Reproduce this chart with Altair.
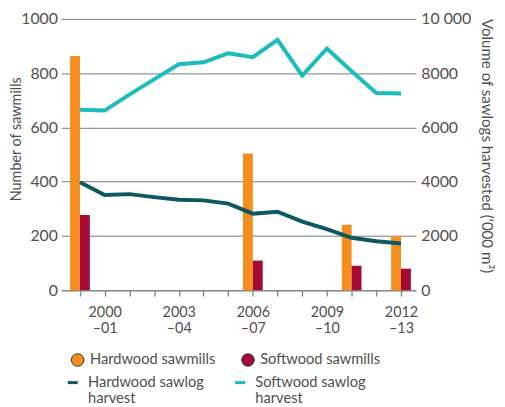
import altair as alt
import pandas as pd

# ---- data ----
years = list(range(1999, 2013))  # financial year start (1999 = 1999-00)
hardwood_harvest = [3980, 3510, 3540, 3430, 3330, 3310, 3190, 2820, 2890, 2530, 2250, 1930, 1800, 1720]
softwood_harvest = [6650, 6620, 7210, 7770, 8330, 8400, 8730, 8590, 9230, 7910, 8910, 8070, 7270, 7250]

mill_years = [1999, 2006, 2010, 2012]
hardwood_mills = [863, 504, 241, 199]
softwood_mills = [277, 109, 90, 79]

label_years = [2000, 2003, 2006, 2009, 2012]
left_ticks = [0, 200, 400, 600, 800, 1000]
right_ticks = [0, 2000, 4000, 6000, 8000, 10000]

mill_types = ["Hardwood sawmills", "Softwood sawmills"]
mill_colors = ["#F68D1F", "#A50A37"]
harvest_types = ["Hardwood sawlog harvest", "Softwood sawlog harvest"]
harvest_colors = ["#0D5862", "#1BBCBE"]

mills = pd.DataFrame({
    "year": mill_years * 2,
    "type": [mill_types[0]] * len(mill_years) + [mill_types[1]] * len(mill_years),
    "count": hardwood_mills + softwood_mills,
})
harvest = pd.DataFrame({
    "year": years * 2,
    "series": [harvest_types[0]] * len(years) + [harvest_types[1]] * len(years),
    "volume": hardwood_harvest + softwood_harvest,
})

FONT = "Lato"
TXT = "#505050"
GRID = "#7a7a7a"

x_scale = alt.Scale(domain=[1998.25, 2012.6], nice=False, zero=False)
label_list = ",".join(str(y) for y in label_years)
x_axis = alt.Axis(
    values=years,
    title=None,
    grid=False,
    domainColor="#8a8a8a",
    domainWidth=1.5,
    tickColor="#777777",
    tickSize=6,
    tickWidth=1.2,
    labelExpr=f"indexof([{label_list}], datum.value) >= 0 ? [toString(datum.value), '–' + substring(toString(datum.value + 1), 2)] : ''",
    labelFont=FONT,
    labelFontSize=14.5,
    labelColor=TXT,
    labelPadding=10,
    labelLineHeight=16,
)

left_axis = alt.Axis(
    values=left_ticks,
    format="d",
    title="Number of sawmills",
    grid=True,
    gridColor=GRID,
    gridWidth=1,
    domain=False,
    ticks=False,
    labelPadding=4,
    labelFont=FONT,
    labelFontSize=16,
    labelColor=TXT,
    titleFont=FONT,
    titleFontSize=14.5,
    titleFontWeight="normal",
    titleColor=TXT,
    titleX=-45,
    titleY=121,
    titleAlign="center",
    titleBaseline="middle",
)
right_axis = alt.Axis(
    values=right_ticks,
    orient="right",
    title="Volume of sawlogs harvested (‘000 m³)",
    grid=False,
    domain=False,
    ticks=False,
    labelPadding=5,
    labelExpr="datum.value == 10000 ? '10 000' : toString(datum.value)",
    labelFont=FONT,
    labelFontSize=16,
    labelColor=TXT,
    titleFont=FONT,
    titleFontSize=15.2,
    titleFontWeight="normal",
    titleColor=TXT,
    titleX=71,
    titleY=128,
    titleAlign="center",
    titleBaseline="middle",
)

bars = alt.Chart(mills).transform_calculate(
    x0=f"datum.year + (datum.type == '{mill_types[0]}' ? -0.4 : 0)",
    x1=f"datum.year + (datum.type == '{mill_types[0]}' ? 0 : 0.4)",
).mark_bar().encode(
    x=alt.X("x0:Q", scale=x_scale, axis=x_axis),
    x2="x1:Q",
    y=alt.Y("count:Q", scale=alt.Scale(domain=[0, 1000], nice=False), axis=left_axis),
    y2=alt.datum(0),
    fill=alt.Fill(
        "type:N",
        scale=alt.Scale(domain=mill_types, range=mill_colors),
        legend=alt.Legend(
            title=None,
            orient="none",
            legendX=9,
            legendY=337,
            direction="horizontal",
            columns=2,
            columnPadding=24,
            symbolType="circle",
            symbolSize=160,
            symbolStrokeColor="#333333",
            symbolStrokeWidth=1,
            symbolOpacity=1,
            labelFont=FONT,
            labelFontSize=14.8,
            labelColor=TXT,
            labelOffset=5,
        ),
    ),
)

lines = alt.Chart(harvest).mark_line(strokeWidth=4).encode(
    x=alt.X("year:Q", scale=x_scale, axis=x_axis),
    y=alt.Y("volume:Q", scale=alt.Scale(domain=[0, 10000], nice=False), axis=right_axis),
    stroke=alt.Stroke(
        "series:N",
        scale=alt.Scale(domain=harvest_types, range=harvest_colors),
        legend=alt.Legend(
            title=None,
            orient="none",
            legendX=4,
            legendY=360,
            direction="horizontal",
            columns=2,
            columnPadding=25,
            symbolType="stroke",
            symbolStrokeWidth=3,
            symbolSize=100,
            labelExpr="[replace(datum.label, ' harvest', ''), 'harvest']",
            labelFont=FONT,
            labelFontSize=14.8,
            labelColor=TXT,
            labelOffset=8,
        ),
    ),
)

chart = alt.layer(bars, lines).resolve_scale(
    y="independent", fill="independent", stroke="independent"
).properties(
    width=358,
    height=274,
    autosize=alt.AutoSizeParams(type="none"),
    padding={"left": 54, "top": 9, "right": 82, "bottom": 116},
).configure_view(stroke=None)

chart.save("out.html", embed_options={"renderer": "svg", "actions": False})
